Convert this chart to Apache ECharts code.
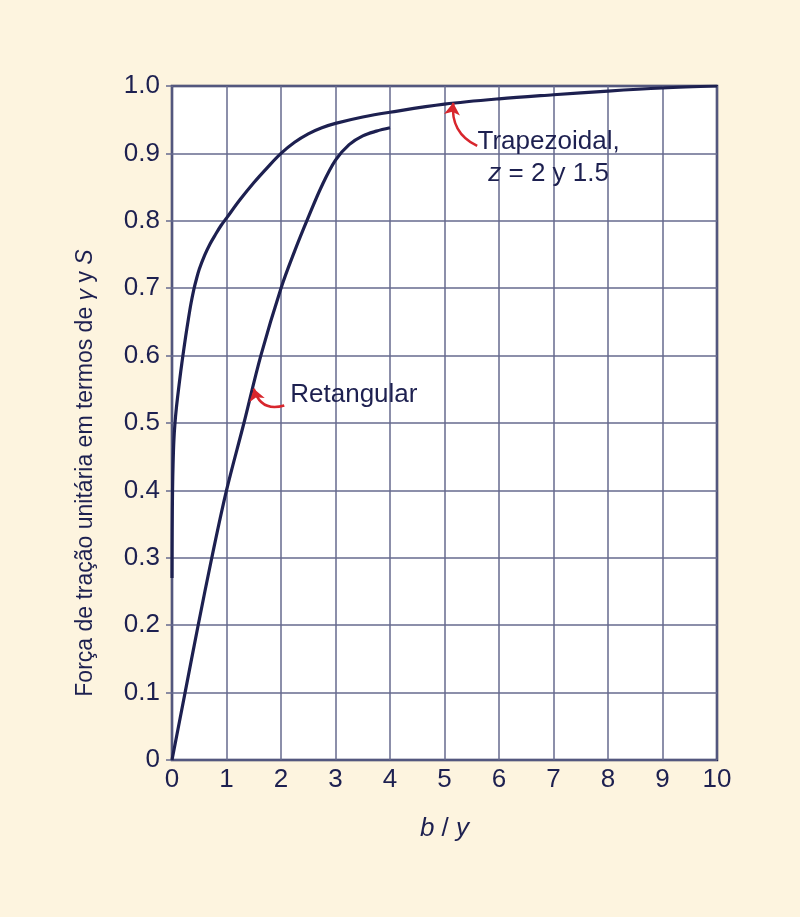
<!DOCTYPE html>
<html>
<head>
<meta charset="utf-8">
<script src="https://cdn.jsdelivr.net/npm/echarts@6/dist/echarts.min.js"></script>
<style>
html,body{margin:0;padding:0;background:#fdf4df;}
#chart{width:800px;height:917px;}
</style>
</head>
<body>
<div id="chart"></div>
<script>
// ---- data ----
const xTicks = [0,1,2,3,4,5,6,7,8,9,10];
const yTickLabels = ['0','0.1','0.2','0.3','0.4','0.5','0.6','0.7','0.8','0.9','1.0'];

const trapezoidalX = [0, 0.003, 0.01, 0.02, 0.035, 0.055, 0.08, 0.12, 0.16, 0.2, 0.25, 0.3, 0.35, 0.4, 0.45, 0.5, 0.6, 0.7, 0.8, 0.9, 1.0, 1.25, 1.5, 1.75, 2.0, 2.25, 2.5, 2.75, 3.0, 3.5, 4.0, 5.0, 6.0, 7.0, 8.0, 9.0, 10.0];
const trapezoidalY = [0.27, 0.34, 0.40, 0.44, 0.475, 0.50, 0.522, 0.55, 0.576, 0.60, 0.628, 0.654, 0.678, 0.698, 0.714, 0.728, 0.749, 0.766, 0.78, 0.793, 0.804, 0.8315, 0.8565, 0.879, 0.90, 0.9165, 0.929, 0.938, 0.9445, 0.954, 0.961, 0.973, 0.981, 0.987, 0.9925, 0.997, 1.0];

const rectangularX = [0, 0.24, 0.48, 0.73, 1.0, 1.32, 1.63, 2.0, 2.25, 2.5, 2.75, 3.0, 3.25, 3.5, 3.75, 4.0];
const rectangularY = [0, 0.10, 0.20, 0.30, 0.40, 0.50, 0.60, 0.70, 0.755, 0.805, 0.852, 0.89, 0.913, 0.926, 0.933, 0.938];

// annotation arrows: [start, tip] in data units
const trapArrow = [[5.6, 0.911], [5.16, 0.975]];
const rectArrow = [[2.06, 0.526], [1.50, 0.551]];
// annotation label anchors in data units
const rectLabelPos = [2.17, 0.542];
const trapLabelPos = [6.91, 0.894];

const navy = '#1d2050';
const gridCol = '#666a8e';
const red = '#d8262d';
const font = 'Liberation Sans';

const zip = (xs, ys) => xs.map((x, i) => [x, ys[i]]);

const chart = echarts.init(document.getElementById('chart'), null, {renderer: 'canvas'});
chart.setOption({
  backgroundColor: '#fdf4df',
  animation: false,
  grid: {left: 172, right: 83, top: 86, bottom: 157, show: true,
         backgroundColor: '#ffffff', borderColor: navy, borderWidth: 2.5},
  xAxis: {
    type: 'value', min: 0, max: 10, interval: 1,
    axisLine: {show: false},
    axisTick: {show: false},
    splitLine: {show: true, lineStyle: {color: gridCol, width: 1.5}},
    axisLabel: {color: navy, fontFamily: font, fontSize: 26, margin: 7,
                formatter: v => String(xTicks[Math.round(v)])},
    name: '{i|b} / {i|y}', nameLocation: 'middle', nameGap: 56,
    nameTextStyle: {color: navy, fontFamily: font, fontSize: 26,
      rich: {i: {fontStyle: 'italic', color: navy, fontFamily: font, fontSize: 26}}}
  },
  yAxis: {
    type: 'value', min: 0, max: 1, interval: 0.1,
    axisLine: {show: false},
    axisTick: {show: true, length: 6, lineStyle: {color: gridCol, width: 1.5}},
    splitLine: {show: true, lineStyle: {color: gridCol, width: 1.5}},
    axisLabel: {color: navy, fontFamily: font, fontSize: 26, margin: 12,
                formatter: v => yTickLabels[Math.round(v * 10)]},
    name: 'Força de tração unitária em termos de {i|γ} y {i|S}',
    nameLocation: 'middle', nameGap: 75, nameRotate: 90,
    nameTextStyle: {color: navy, fontFamily: font, fontSize: 23, padding: [0, 100, 0, 0],
      rich: {i: {fontStyle: 'italic', color: navy, fontFamily: font, fontSize: 23}}}
  },
  series: [
    {type: 'line', data: zip(trapezoidalX, trapezoidalY), smooth: 0.35, symbol: 'none',
     lineStyle: {color: navy, width: 3.2}, z: 3},
    {type: 'line', data: zip(rectangularX, rectangularY), smooth: 0.35, symbol: 'none',
     lineStyle: {color: navy, width: 3.2}, z: 3},
    {type: 'lines', coordinateSystem: 'cartesian2d', z: 4,
     symbol: ['none', 'arrow'], symbolSize: [0, 12],
     lineStyle: {color: red, width: 2.5, opacity: 1},
     data: [
       {coords: trapArrow, lineStyle: {curveness: 0.35}},
       {coords: rectArrow, lineStyle: {curveness: 0.5}}
     ]},
    {type: 'scatter', symbolSize: 0, z: 5, silent: true,
     itemStyle: {opacity: 1},
     data: [
       {value: rectLabelPos, label: {show: true, position: 'right', distance: 0,
          formatter: 'Retangular', color: navy, fontFamily: font, fontSize: 26}},
       {value: trapLabelPos, label: {show: true, position: 'inside', align: 'center',
          verticalAlign: 'middle', lineHeight: 32,
          formatter: 'Trapezoidal,\n{i|z} = 2 y 1.5', color: navy, fontFamily: font, fontSize: 26,
          rich: {i: {fontStyle: 'italic', color: navy, fontFamily: font, fontSize: 26, lineHeight: 32}}}}
     ]}
  ]
});
</script>
</body>
</html>
